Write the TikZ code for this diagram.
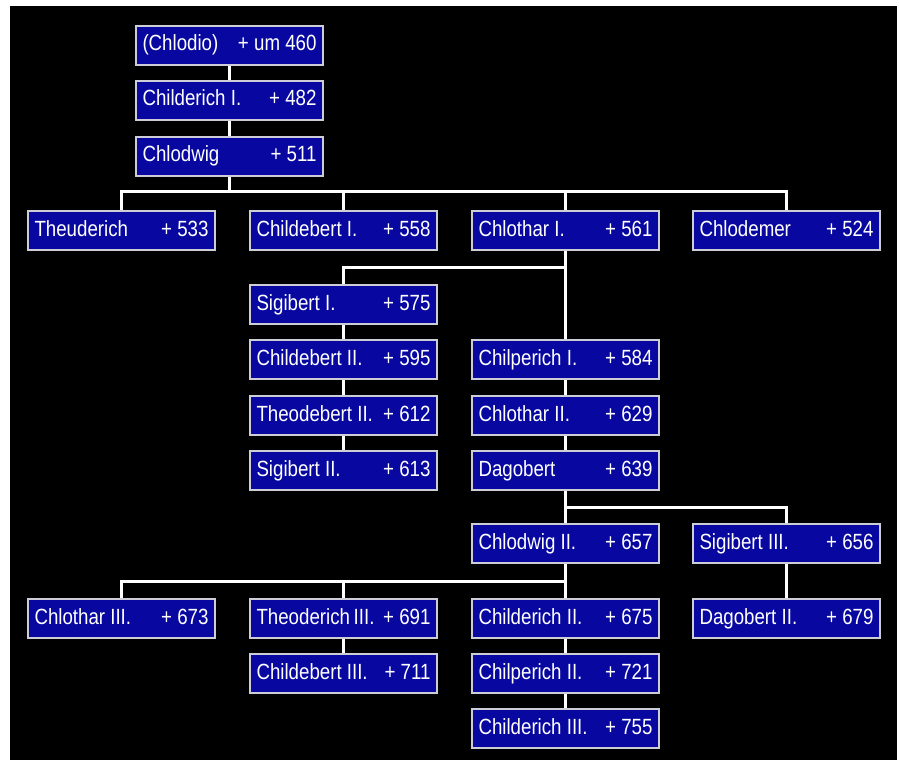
\documentclass[tikz,border=0pt]{standalone}
\usepackage{fontspec}
\setmainfont[FakeStretch=0.85]{Liberation Sans}
\definecolor{boxblue}{RGB}{8,8,160}
\definecolor{boxrim}{RGB}{205,205,215}
\newcommand{\frk}[2]{\makebox[174pt]{#1\hfill #2}}
\tikzset{
  kbox/.style={draw=boxrim, line width=2pt, fill=boxblue, text=white,
    inner xsep=6.5pt, inner ysep=0pt, minimum height=39pt,
    text height=15.5pt, text depth=4.5pt, anchor=north west,
    font=\fontsize{22}{25}\selectfont},
  link/.style={draw=white, line width=3pt, line join=miter}
}
\begin{document}
\begin{tikzpicture}[x=1pt,y=-1pt]
\useasboundingbox (0,0) rectangle (899,762);
\fill[white] (0,0) rectangle (899,762);
\fill[black] (10,6) rectangle (897,760);
% nodes
\node[kbox] (chlodio) at (135,25) {\frk{(Chlodio)}{+ um 460}};
\node[kbox] (childerich1) at (135,80) {\frk{Childerich I.}{+ 482}};
\node[kbox] (chlodwig) at (135,136) {\frk{Chlodwig}{+ 511}};
\node[kbox] (theuderich) at (27,210) {\frk{Theuderich}{+ 533}};
\node[kbox] (childebert1) at (249,210) {\frk{Childebert I.}{+ 558}};
\node[kbox] (chlothar1) at (471,210) {\frk{Chlothar I.}{+ 561}};
\node[kbox] (chlodemer) at (692,210) {\frk{Chlodemer}{+ 524}};
\node[kbox] (sigibert1) at (249,284) {\frk{Sigibert I.}{+ 575}};
\node[kbox] (childebert2) at (249,339) {\frk{Childebert II.}{+ 595}};
\node[kbox] (theodebert2) at (249,395) {\frk{Theodebert II.}{+ 612}};
\node[kbox] (sigibert2) at (249,450) {\frk{Sigibert II.}{+ 613}};
\node[kbox] (chilperich1) at (471,339) {\frk{Chilperich I.}{+ 584}};
\node[kbox] (chlothar2) at (471,395) {\frk{Chlothar II.}{+ 629}};
\node[kbox] (dagobert) at (471,450) {\frk{Dagobert}{+ 639}};
\node[kbox] (chlodwig2) at (471,523) {\frk{Chlodwig II.}{+ 657}};
\node[kbox] (sigibert3) at (692,523) {\frk{Sigibert III.}{+ 656}};
\node[kbox] (chlothar3) at (27,598) {\frk{Chlothar III.}{+ 673}};
\node[kbox] (theoderich3) at (249,598) {\frk{Theoderich\,III.}{+ 691}};
\node[kbox] (childerich2) at (471,598) {\frk{Childerich II.}{+ 675}};
\node[kbox] (dagobert2) at (692,598) {\frk{Dagobert II.}{+ 679}};
\node[kbox] (childebert3) at (249,653) {\frk{Childebert III.}{+ 711}};
\node[kbox] (chilperich2) at (471,653) {\frk{Chilperich II.}{+ 721}};
\node[kbox] (childerich3) at (471,708) {\frk{Childerich III.}{+ 755}};
% connectors
\draw[link] (chlodio.south) -- (childerich1.north);
\draw[link] (childerich1.south) -- (chlodwig.north);
\draw[link] (chlodwig.south) -- (chlodwig.south |- 0,192);
\draw[link] (theuderich.north) |- (chlodemer.north |- 0,192) -- (chlodemer.north);
\draw[link] (childebert1.north) -- (childebert1.north |- 0,192);
\draw[link] (chlothar1.north) -- (chlothar1.north |- 0,192);
\draw[link] (chlothar1.south) -- (chilperich1.north);
\draw[link] (sigibert1.north) |- (chlothar1.south |- 0,267);
\draw[link] (sigibert1.south) -- (childebert2.north);
\draw[link] (childebert2.south) -- (theodebert2.north);
\draw[link] (theodebert2.south) -- (sigibert2.north);
\draw[link] (chilperich1.south) -- (chlothar2.north);
\draw[link] (chlothar2.south) -- (dagobert.north);
\draw[link] (dagobert.south) -- (chlodwig2.north);
\draw[link] (sigibert3.north) |- (dagobert.south |- 0,507);
\draw[link] (sigibert3.south) -- (dagobert2.north);
\draw[link] (chlodwig2.south) -- (childerich2.north);
\draw[link] (chlothar3.north) |- (chlodwig2.south |- 0,581);
\draw[link] (theoderich3.north) -- (theoderich3.north |- 0,581);
\draw[link] (theoderich3.south) -- (childebert3.north);
\draw[link] (childerich2.south) -- (chilperich2.north);
\draw[link] (chilperich2.south) -- (childerich3.north);
\end{tikzpicture}
\end{document}
